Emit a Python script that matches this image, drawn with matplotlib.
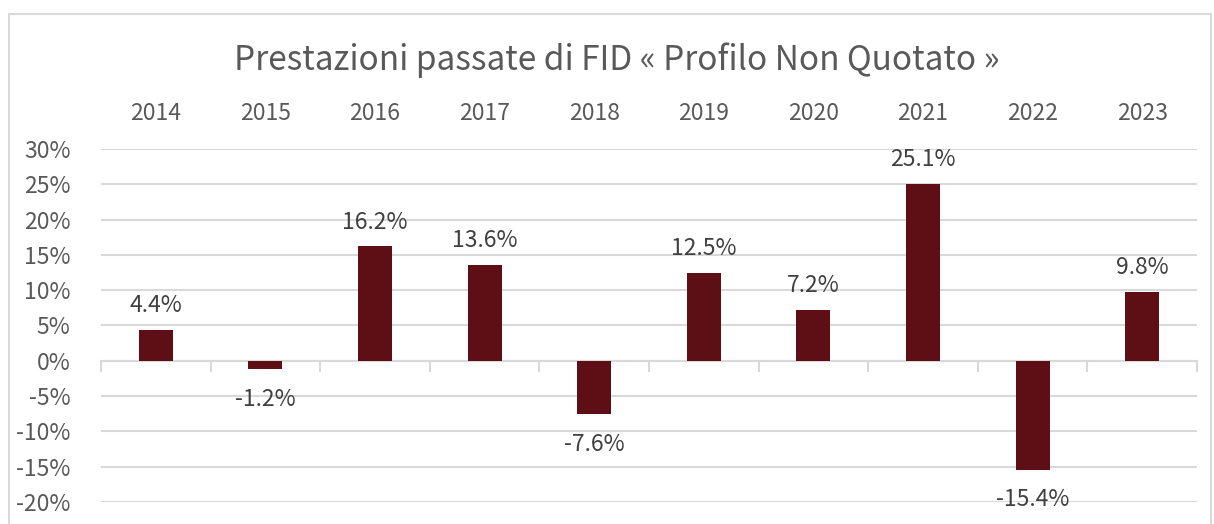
import matplotlib
matplotlib.use("Agg")
import matplotlib.pyplot as plt
from matplotlib.patches import Rectangle
from matplotlib.ticker import FixedLocator, FuncFormatter

years = ["2014", "2015", "2016", "2017", "2018", "2019", "2020", "2021", "2022", "2023"]
returns = [4.4, -1.2, 16.2, 13.6, -7.6, 12.5, 7.2, 25.1, -15.4, 9.8]
y_ticks = [-20, -15, -10, -5, 0, 5, 10, 15, 20, 25, 30]
title = "Prestazioni passate di FID « Profilo Non Quotato »"

plt.rcParams['font.family'] = ['Noto Sans CJK JP', 'DejaVu Sans']
TEXT = "#595959"
GRID = "#D9D9D9"
BAR = "#5E0F16"

W, H = 1214, 524
fig = plt.figure(figsize=(W / 100, H / 100), dpi=100)
fig.patch.set_facecolor("white")
fig.patches.append(Rectangle((9 / W, -0.05), (1211 - 9) / W, 1 - 14 / H + 0.05,
                             transform=fig.transFigure, fill=False,
                             edgecolor=GRID, linewidth=1.5))

ax = fig.add_axes([101 / W, 1 - 502 / H, (1197 - 101) / W, (502 - 149) / H])
x = list(range(len(years)))
ax.bar(x, returns, width=0.31, color=BAR, zorder=3)

ax.set_xlim(-0.5, len(years) - 0.5)
ax.set_ylim(-20, 30)
ax.yaxis.set_major_locator(FixedLocator(y_ticks))
ax.yaxis.set_major_formatter(FuncFormatter(lambda v, p: f"{v:.0f}%"))
ax.grid(axis='y', color=GRID, linewidth=1.5, zorder=0)
ax.tick_params(axis='y', length=0, pad=22, labelsize=16.5, labelcolor=TEXT)

ax.set_xticks(x)
ax.set_xticklabels(years)
ax.set_xticks([i - 0.5 for i in range(len(years) + 1)], minor=True)
ax.tick_params(axis='x', which='major', length=0, top=False, bottom=False,
               labeltop=True, labelbottom=False, pad=17, labelsize=16.5, labelcolor=TEXT)
ax.tick_params(axis='x', which='minor', length=8, width=1.5, color=GRID,
               bottom=True, top=False, direction='out')

for s in ['left', 'right', 'top']:
    ax.spines[s].set_visible(False)
ax.spines['bottom'].set_position(('data', 0))
ax.spines['bottom'].set_color(GRID)
ax.spines['bottom'].set_linewidth(1.5)
ax.spines['bottom'].set_zorder(2)

for xi, v in zip(x, returns):
    off = 17.5 if v >= 0 else -21.5
    ax.annotate(f"{v:.1f}%", (xi, v), xytext=(0, off), textcoords='offset points',
                ha='center', va='center', fontsize=16.5, color="#404040", zorder=4)

fig.text(617 / W, 1 - 60 / H, title, ha='center', va='center', fontsize=24, color=TEXT)

fig.savefig("out.png", dpi=100)
